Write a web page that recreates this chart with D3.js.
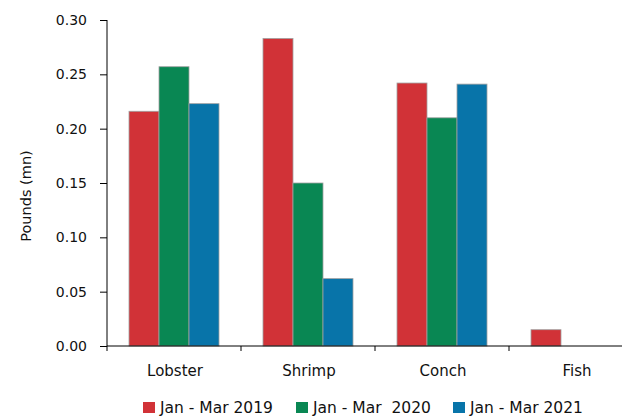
<!DOCTYPE html>
<html><head><meta charset="utf-8">
<script src="https://cdn.jsdelivr.net/npm/d3@7"></script>
<style>body{margin:0;background:#fff}svg{display:block}text{font-family:"DejaVu Sans",sans-serif;fill:#111}</style>
</head><body><svg id="c" width="627" height="417"></svg>
<script>
const categories = ["Lobster", "Shrimp", "Conch", "Fish"];
const seriesNames = ["Jan - Mar 2019", "Jan - Mar  2020", "Jan - Mar 2021"];
const s2019 = [0.216, 0.283, 0.242, 0.015];
const s2020 = [0.257, 0.150, 0.210, null];
const s2021 = [0.223, 0.062, 0.241, null];
const colors = ["#d13237", "#098753", "#0874a9"];
const yTicks = [0, 0.05, 0.10, 0.15, 0.20, 0.25, 0.30];

const series = [s2019, s2020, s2021];
const svg = d3.select("#c");
const x0 = 107, xEnd = 622;
const x = d3.scaleBand().domain(categories).range([x0, x0 + 134 * 4]).paddingInner(0).paddingOuter(0);
const xs = d3.scaleBand().domain(d3.range(3)).range([22, 112]);
const y = d3.scaleLinear().domain([0, 0.30]).range([346, 20]);

// bars
categories.forEach((c, i) => {
  series.forEach((s, k) => {
    if (s[i] == null) return;
    svg.append("rect")
      .attr("x", x(c) + xs(k)).attr("width", xs.bandwidth())
      .attr("y", y(s[i])).attr("height", y(0) - y(s[i]))
      .attr("fill", colors[k]).attr("stroke", "#a0a0a0").attr("stroke-width", 0.8);
  });
});

// y axis
const ya = svg.append("g").attr("transform", `translate(${x0},0)`)
  .call(d3.axisLeft(y).tickValues(yTicks).tickFormat(d3.format(".2f")).tickSize(7).tickPadding(13));
ya.select(".domain").attr("d", `M0,${y(0.30)}V${y(0)+5}`).attr("stroke", "#000");
ya.selectAll("text").style("font-size", "14px").style("font-family", "DejaVu Sans").attr("fill", "#111");

// x axis
const xa = svg.append("g").attr("transform", `translate(0,${y(0)})`);
xa.append("line").attr("x1", x0).attr("x2", xEnd).attr("stroke", "#000");
const bounds = categories.map(c => x(c)).slice(1);
xa.selectAll(".tk").data(bounds).enter().append("line")
  .attr("x1", d => d).attr("x2", d => d).attr("y1", 0).attr("y2", 5).attr("stroke", "#000");
xa.selectAll(".lb").data(categories).enter().append("text")
  .attr("x", d => x(d) + x.bandwidth() / 2 + 1).attr("y", 30)
  .attr("text-anchor", "middle").style("font-size", "15px").text(d => d);

// y label
svg.append("text").attr("transform", "translate(31,196) rotate(-90)")
  .attr("text-anchor", "middle").style("font-size", "14.5px").text("Pounds (mn)");

// legend
const legX = [143, 296, 453];
seriesNames.forEach((n, k) => {
  svg.append("rect").attr("x", legX[k]).attr("y", 402).attr("width", 12).attr("height", 11).attr("fill", colors[k]);
  svg.append("text").attr("x", legX[k] + 17).attr("y", 413).style("font-size", "15.5px")
    .style("white-space", "pre").attr("xml:space", "preserve").text(n);
});
</script></body></html>
